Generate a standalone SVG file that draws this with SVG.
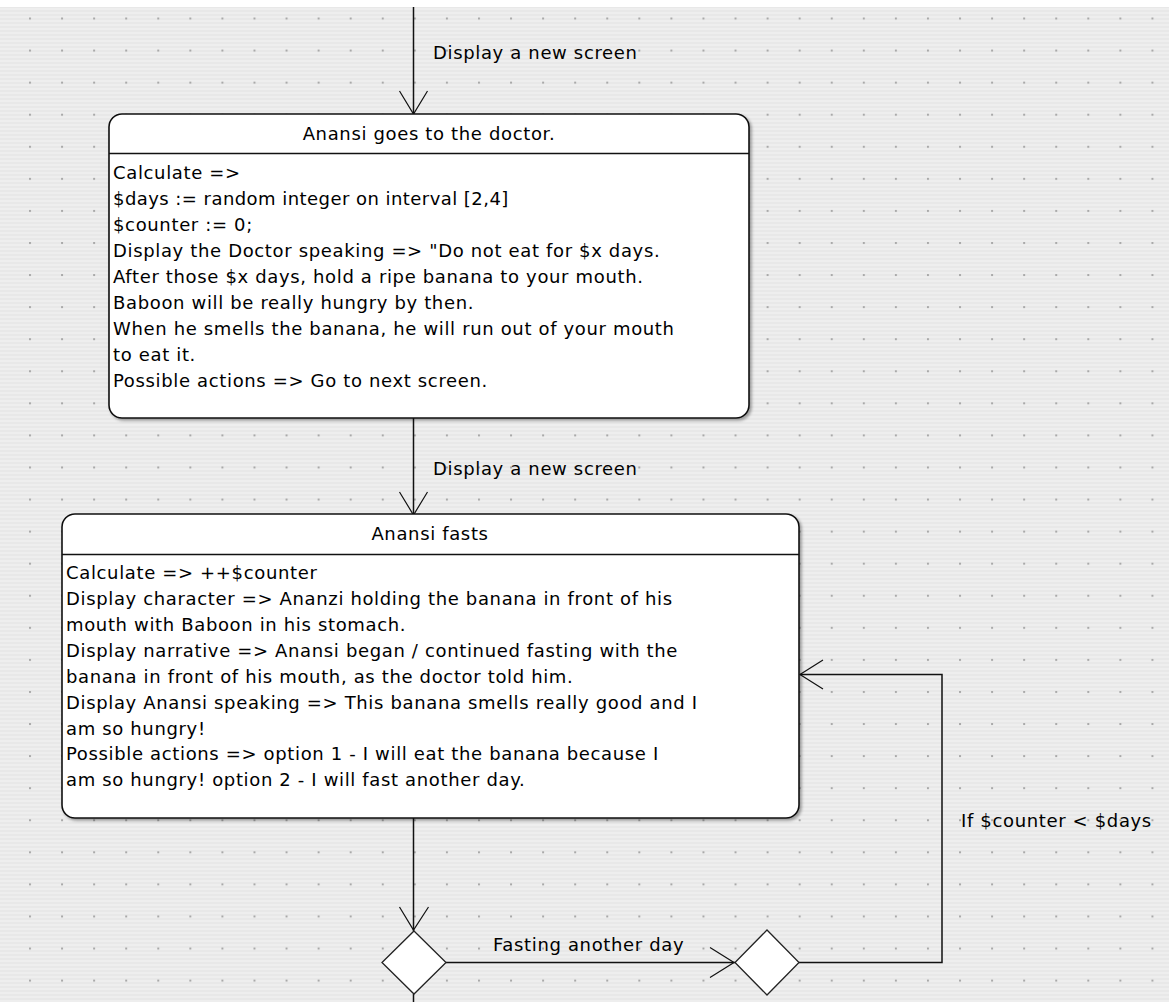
<svg xmlns="http://www.w3.org/2000/svg" width="1169" height="1002" viewBox="0 0 1169 1002">
<defs>
<pattern id="stripes" patternUnits="userSpaceOnUse" x="0" y="0" width="8" height="4">
<rect width="8" height="4" fill="#eeeeee"/>
<rect y="2" width="8" height="2" fill="#e8e8e8"/>
</pattern>
<pattern id="dots" patternUnits="userSpaceOnUse" x="29" y="17.5" width="32.07" height="32.07">
<rect width="2" height="2" fill="#a9a9a9"/>
</pattern>
<filter id="sh" x="-5%" y="-5%" width="110%" height="110%">
<feDropShadow dx="2" dy="2" stdDeviation="1.5" flood-color="#000" flood-opacity="0.35"/>
</filter>
</defs>
<style>
text{font-family:"DejaVu Sans","Liberation Sans",sans-serif;font-size:18px;fill:#000;letter-spacing:0.65px}
.title{text-anchor:middle}
.box{fill:#fff;stroke:#111;stroke-width:1.6}
.div{stroke:#111;stroke-width:1.6}
.edge{fill:none;stroke:#111;stroke-width:1.5}
.head{fill:none;stroke:#111;stroke-width:1.2}
.dia{fill:#fff;stroke:#222;stroke-width:1.3}
</style>
<rect width="1169" height="1002" fill="url(#stripes)"/>
<rect width="1169" height="7" fill="#ffffff"/>
<rect y="7" width="1169" height="995" fill="url(#dots)"/>

<g id="connectors">
<path class="edge" d="M413.5 7 V114"/>
<path class="head" d="M399.5 91 L413.5 114 L427.5 91"/>
<text x="433" y="58.5">Display a new screen</text>

<path class="edge" d="M413.5 418 V515"/>
<path class="head" d="M399.5 492 L413.5 515 L427.5 492"/>
<text x="433" y="474.5">Display a new screen</text>

<path class="edge" d="M413.5 818 V931"/>
<path class="head" d="M399.5 907 L413.5 930 L428.5 907"/>
<path class="edge" d="M413.5 994 V1002"/>

<path class="edge" d="M446 962.5 H735"/>
<path class="head" d="M710 947.5 L734 962.5 L710 977.5"/>
<text x="493" y="951">Fasting another day</text>

<path class="edge" d="M799 962.5 H942 V674.5 H800"/>
<path class="head" d="M823 660 L800 674.5 L823 689"/>
<text x="961" y="827">If $counter &lt; $days</text>
</g>

<g id="node-doctor">
<rect class="box" x="109" y="114" width="640" height="304" rx="13" filter="url(#sh)"/>
<line class="div" x1="109" y1="153.5" x2="749" y2="153.5"/>
<text class="title" x="429" y="139.5">Anansi goes to the doctor.</text>
<text x="113" y="179">Calculate =&gt;</text>
<text x="113" y="205" textLength="396" lengthAdjust="spacing">$days := random integer on interval [2,4]</text>
<text x="113" y="231">$counter := 0;</text>
<text x="113" y="257">Display the Doctor speaking =&gt; "Do not eat for $x days.</text>
<text x="113" y="283">After those $x days, hold a ripe banana to your mouth.</text>
<text x="113" y="309">Baboon will be really hungry by then.</text>
<text x="113" y="335">When he smells the banana, he will run out of your mouth</text>
<text x="113" y="361">to eat it.</text>
<text x="113" y="387">Possible actions =&gt; Go to next screen.</text>
</g>

<g id="node-fasts">
<rect class="box" x="62" y="514" width="737" height="304" rx="13" filter="url(#sh)"/>
<line class="div" x1="62" y1="554.5" x2="799" y2="554.5"/>
<text class="title" x="430" y="540">Anansi fasts</text>
<text x="66" y="579">Calculate =&gt; ++$counter</text>
<text x="66" y="605">Display character =&gt; Ananzi holding the banana in front of his</text>
<text x="66" y="631">mouth with Baboon in his stomach.</text>
<text x="66" y="657">Display narrative =&gt; Anansi began / continued fasting with the</text>
<text x="66" y="683">banana in front of his mouth, as the doctor told him.</text>
<text x="66" y="709">Display Anansi speaking =&gt; This banana smells really good and I</text>
<text x="66" y="735">am so hungry!</text>
<text x="66" y="760">Possible actions =&gt; option 1 - I will eat the banana because I</text>
<text x="66" y="786">am so hungry! option 2 - I will fast another day.</text>
</g>

<g id="decision-1">
<polygon class="dia" points="414,931 446,962.5 414,994 382,962.5"/>
</g>
<g id="decision-2">
<polygon class="dia" points="767,930 799,962.5 767,995 735,962.5"/>
</g>
</svg>
